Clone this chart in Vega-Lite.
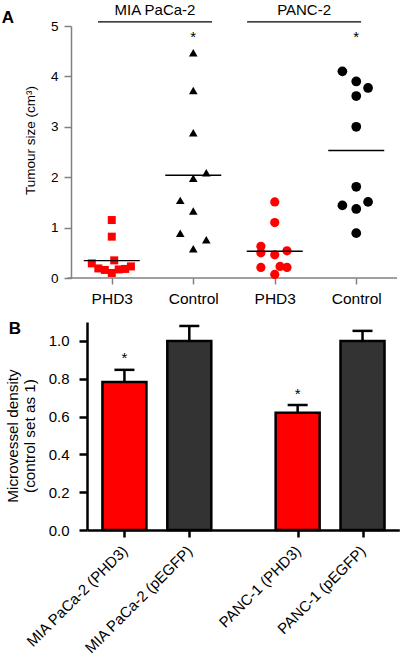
{
  "$schema": "https://vega.github.io/schema/vega-lite/v6.json",
  "background": "white",
  "padding": {"left": 1, "top": 3, "right": 0, "bottom": 0},
  "config": {"font": "Liberation Sans", "view": {"stroke": null}, "axis": {"grid": false}},
  "datasets": {
    "tumour": [
      {"series": "MIA PaCa-2 PHD3", "pos": 1.0, "size": 1.15},
      {"series": "MIA PaCa-2 PHD3", "pos": 1.0, "size": 0.82},
      {"series": "MIA PaCa-2 PHD3", "pos": 0.755, "size": 0.29},
      {"series": "MIA PaCa-2 PHD3", "pos": 0.835, "size": 0.19},
      {"series": "MIA PaCa-2 PHD3", "pos": 0.915, "size": 0.16},
      {"series": "MIA PaCa-2 PHD3", "pos": 1.0, "size": 0.10},
      {"series": "MIA PaCa-2 PHD3", "pos": 1.03, "size": 0.35},
      {"series": "MIA PaCa-2 PHD3", "pos": 1.085, "size": 0.17},
      {"series": "MIA PaCa-2 PHD3", "pos": 1.165, "size": 0.18},
      {"series": "MIA PaCa-2 PHD3", "pos": 1.235, "size": 0.23},
      {"series": "MIA PaCa-2 Control", "pos": 2.0, "size": 4.47},
      {"series": "MIA PaCa-2 Control", "pos": 2.0, "size": 3.72},
      {"series": "MIA PaCa-2 Control", "pos": 2.0, "size": 2.88},
      {"series": "MIA PaCa-2 Control", "pos": 2.0, "size": 1.98},
      {"series": "MIA PaCa-2 Control", "pos": 2.16, "size": 2.09},
      {"series": "MIA PaCa-2 Control", "pos": 1.84, "size": 1.54},
      {"series": "MIA PaCa-2 Control", "pos": 2.0, "size": 1.33},
      {"series": "MIA PaCa-2 Control", "pos": 1.84, "size": 0.89},
      {"series": "MIA PaCa-2 Control", "pos": 2.16, "size": 0.76},
      {"series": "MIA PaCa-2 Control", "pos": 2.0, "size": 0.58},
      {"series": "PANC-2 PHD3", "pos": 3.0, "size": 1.51},
      {"series": "PANC-2 PHD3", "pos": 3.0, "size": 1.10},
      {"series": "PANC-2 PHD3", "pos": 2.83, "size": 0.63},
      {"series": "PANC-2 PHD3", "pos": 2.83, "size": 0.50},
      {"series": "PANC-2 PHD3", "pos": 3.0, "size": 0.46},
      {"series": "PANC-2 PHD3", "pos": 3.15, "size": 0.54},
      {"series": "PANC-2 PHD3", "pos": 2.83, "size": 0.21},
      {"series": "PANC-2 PHD3", "pos": 3.065, "size": 0.23},
      {"series": "PANC-2 PHD3", "pos": 3.15, "size": 0.21},
      {"series": "PANC-2 PHD3", "pos": 3.0, "size": 0.07},
      {"series": "PANC-2 Control", "pos": 3.83, "size": 4.10},
      {"series": "PANC-2 Control", "pos": 4.0, "size": 3.90},
      {"series": "PANC-2 Control", "pos": 4.145, "size": 3.77},
      {"series": "PANC-2 Control", "pos": 4.0, "size": 3.61},
      {"series": "PANC-2 Control", "pos": 4.0, "size": 3.00},
      {"series": "PANC-2 Control", "pos": 4.0, "size": 1.81},
      {"series": "PANC-2 Control", "pos": 3.83, "size": 1.44},
      {"series": "PANC-2 Control", "pos": 4.145, "size": 1.51},
      {"series": "PANC-2 Control", "pos": 4.0, "size": 1.37},
      {"series": "PANC-2 Control", "pos": 4.0, "size": 0.89}
    ],
    "means": [
      {"series": "MIA PaCa-2 PHD3", "pos": 1, "mean": 0.345, "sig": ""},
      {"series": "MIA PaCa-2 Control", "pos": 2, "mean": 2.04, "sig": "*"},
      {"series": "PANC-2 PHD3", "pos": 3, "mean": 0.53, "sig": ""},
      {"series": "PANC-2 Control", "pos": 4, "mean": 2.53, "sig": "*"}
    ],
    "cells": [
      {"cell": "MIA PaCa-2", "center": 1.53},
      {"cell": "PANC-2", "center": 3.36}
    ],
    "mvd": [
      {"group": "MIA PaCa-2 (PHD3)", "pos": 1, "value": 0.783, "upper": 0.847, "vector": "PHD3", "sig": "*"},
      {"group": "MIA PaCa-2 (pEGFP)", "pos": 2, "value": 1.0, "upper": 1.079, "vector": "pEGFP", "sig": ""},
      {"group": "PANC-1 (PHD3)", "pos": 3.67, "value": 0.62, "upper": 0.661, "vector": "PHD3", "sig": "*"},
      {"group": "PANC-1 (pEGFP)", "pos": 4.67, "value": 1.0, "upper": 1.053, "vector": "pEGFP", "sig": ""}
    ]
  },
  "spacing": 0,
  "vconcat": [
    {
      "width": 310,
      "height": 252,
      "layer": [
        {
          "data": {"values": [{"edge": "baseline"}]},
          "mark": {"type": "rule", "color": "#808080", "strokeWidth": 1.5},
          "encoding": {
            "x": {"datum": 0.46},
            "x2": {"datum": 4.5},
            "y": {"datum": 0}
          }
        },
        {
          "data": {"name": "tumour"},
          "mark": {"type": "point", "filled": true, "opacity": 1, "strokeWidth": 0},
          "encoding": {
            "x": {"field": "pos", "type": "quantitative",
              "scale": {"domain": [0.696, 4.5], "nice": false, "zero": false},
              "axis": {"values": [1, 2, 3, 4], "labelExpr": "datum.value == 1 || datum.value == 3 ? 'PHD3' : 'Control'",
                "title": null, "domain": false, "tickColor": "#808080", "tickWidth": 1.5,
                "tickSize": 6, "labelFontSize": 15.5, "labelPadding": 7, "labelColor": "black", "labelOverlap": false, "labelFlush": false}},
            "y": {"field": "size", "type": "quantitative",
              "scale": {"domain": [0, 5], "nice": false},
              "axis": {"values": [0, 1, 2, 3, 4, 5], "format": "d", "offset": 16, "title": "Tumour size (cm³)",
                "titleFontSize": 13.5, "titleFontWeight": "normal", "titleAngle": -90, "titleAlign": "center",
                "titleBaseline": "alphabetic", "titleX": -37, "titleY": 114, "titleColor": "black",
                "domainColor": "#808080", "domainWidth": 1.5, "tickColor": "#808080", "tickWidth": 1.5,
                "tickSize": 7, "labelFontSize": 13.5, "labelPadding": 6, "labelColor": "black", "labelFlush": false}},
            "shape": {"field": "series", "type": "nominal",
              "scale": {"domain": ["MIA PaCa-2 PHD3", "MIA PaCa-2 Control", "PANC-2 PHD3", "PANC-2 Control"],
                "range": ["square", "triangle-up", "circle", "circle"]}, "legend": null},
            "color": {"field": "series", "type": "nominal",
              "scale": {"domain": ["MIA PaCa-2 PHD3", "MIA PaCa-2 Control", "PANC-2 PHD3", "PANC-2 Control"],
                "range": ["#ff0000", "#000000", "#ff0000", "#000000"]}, "legend": null},
            "size": {"field": "series", "type": "nominal",
              "scale": {"domain": ["MIA PaCa-2 PHD3", "MIA PaCa-2 Control", "PANC-2 PHD3", "PANC-2 Control"],
                "range": [64, 95, 78, 78]}, "legend": null}
          }
        },
        {
          "data": {"name": "means"},
          "mark": {"type": "tick", "orient": "horizontal", "size": 56, "thickness": 1.4, "color": "black", "opacity": 1},
          "encoding": {
            "x": {"field": "pos", "type": "quantitative"},
            "y": {"field": "mean", "type": "quantitative"}
          }
        },
        {
          "data": {"name": "means"},
          "mark": {"type": "text", "fontSize": 15, "baseline": "alphabetic", "align": "center", "dy": 8.5, "color": "black"},
          "encoding": {
            "x": {"field": "pos", "type": "quantitative"},
            "y": {"datum": 4.85},
            "text": {"field": "sig"}
          }
        },
        {
          "data": {"name": "cells"},
          "mark": {"type": "tick", "orient": "horizontal", "size": 114, "thickness": 1.2, "color": "black", "opacity": 1},
          "encoding": {
            "x": {"field": "center", "type": "quantitative"},
            "y": {"datum": 5.08}
          }
        },
        {
          "data": {"name": "cells"},
          "mark": {"type": "text", "fontSize": 15, "baseline": "alphabetic", "align": "center", "color": "black"},
          "encoding": {
            "x": {"field": "center", "type": "quantitative"},
            "y": {"datum": 5.212},
            "text": {"field": "cell"}
          }
        },
        {
          "data": {"values": [{"panel": "A"}]},
          "mark": {"type": "text", "fontSize": 17, "fontWeight": "bold", "baseline": "alphabetic", "align": "left", "color": "black"},
          "encoding": {
            "x": {"datum": -0.35},
            "y": {"datum": 5.06},
            "text": {"field": "panel"}
          }
        }
      ]
    },
    {
      "width": 312.3,
      "height": 208,
      "layer": [
        {
          "data": {"name": "mvd"},
          "mark": {"type": "rule", "color": "black", "strokeWidth": 2.5},
          "encoding": {
            "x": {"field": "pos", "type": "quantitative",
              "scale": {"domain": [0.5, 5.16], "nice": false, "zero": false},
              "axis": {"values": [1, 2, 3.67, 4.67],
                "labelExpr": "datum.value < 1.5 ? 'MIA PaCa-2 (PHD3)' : datum.value < 2.5 ? 'MIA PaCa-2 (pEGFP)' : datum.value < 4 ? 'PANC-1 (PHD3)' : 'PANC-1 (pEGFP)'",
                "title": null, "domainColor": "black", "domainWidth": 2.5, "tickColor": "black", "tickWidth": 2.5, "tickSize": 7,
                "labelFontSize": 15, "labelAngle": -45, "labelAlign": "right", "labelBaseline": "middle", "labelPadding": 11,
                "labelColor": "black", "labelOverlap": false, "labelFlush": false, "labelBound": false}},
            "y": {"field": "value", "type": "quantitative",
              "scale": {"domain": [0, 1.1], "nice": false},
              "axis": {"values": [0, 0.2, 0.4, 0.6, 0.8, 1.0], "format": ".1f",
                "title": ["Microvessel density", "(control set as 1)"],
                "titleFontSize": 15.3, "titleFontWeight": "normal", "titleAngle": -90, "titleAlign": "center",
                "titleBaseline": "alphabetic", "titleX": -70, "titleY": 113.5, "titleLineHeight": 17.5, "titleColor": "black",
                "domainColor": "black", "domainWidth": 2.5, "tickColor": "black", "tickWidth": 2.5, "tickSize": 8,
                "labelFontSize": 15, "labelPadding": 10, "labelColor": "black", "labelFlush": false}},
            "y2": {"field": "upper"}
          }
        },
        {
          "data": {"name": "mvd"},
          "mark": {"type": "tick", "orient": "horizontal", "size": 20, "thickness": 2.5, "color": "black", "opacity": 1},
          "encoding": {
            "x": {"field": "pos", "type": "quantitative"},
            "y": {"field": "upper", "type": "quantitative"}
          }
        },
        {
          "data": {"name": "mvd"},
          "mark": {"type": "bar", "orient": "vertical", "size": 44, "stroke": "black", "strokeWidth": 2.5, "opacity": 1},
          "encoding": {
            "x": {"field": "pos", "type": "quantitative"},
            "y": {"field": "value", "type": "quantitative"},
            "fill": {"field": "vector", "type": "nominal",
              "scale": {"domain": ["PHD3", "pEGFP"], "range": ["#ff0000", "#333333"]}, "legend": null}
          }
        },
        {
          "data": {"name": "mvd"},
          "mark": {"type": "text", "fontSize": 15, "baseline": "alphabetic", "align": "center", "dy": -6.4, "color": "black"},
          "encoding": {
            "x": {"field": "pos", "type": "quantitative"},
            "y": {"field": "upper", "type": "quantitative"},
            "text": {"field": "sig"}
          }
        },
        {
          "data": {"values": [{"panel": "B"}]},
          "mark": {"type": "text", "fontSize": 17, "fontWeight": "bold", "baseline": "alphabetic", "align": "left", "color": "black"},
          "encoding": {
            "x": {"datum": -0.784},
            "y": {"datum": 1.035},
            "text": {"field": "panel"}
          }
        }
      ]
    }
  ]
}
